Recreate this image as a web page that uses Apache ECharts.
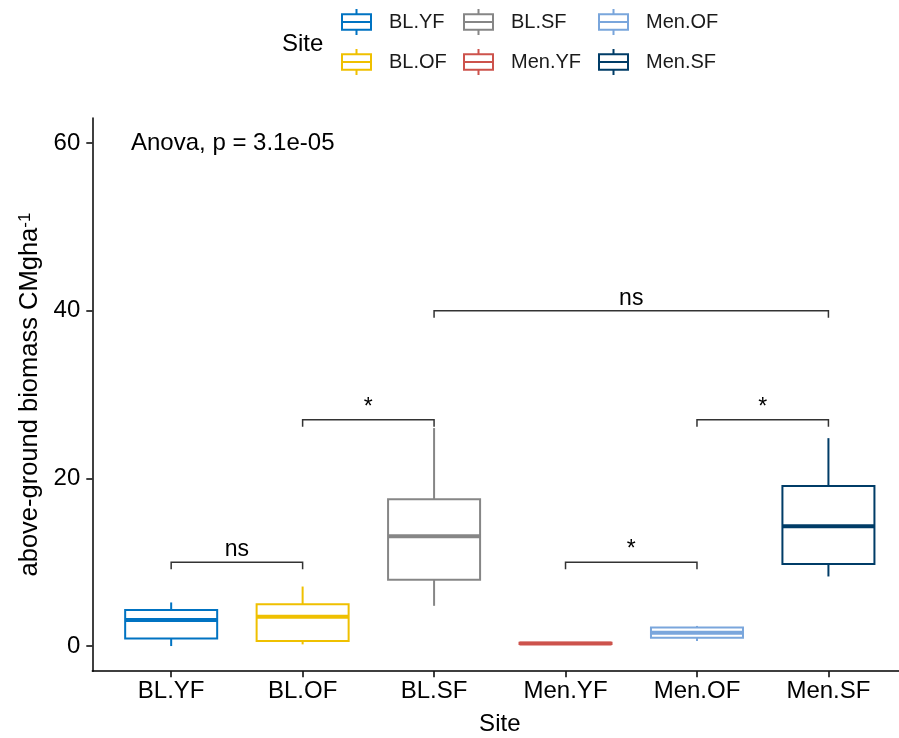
<!DOCTYPE html>
<html><head><meta charset="utf-8">
<script src="https://cdn.jsdelivr.net/npm/echarts@6/dist/echarts.min.js"></script>
<style>html,body{margin:0;padding:0;background:#fff}#c{width:899px;height:738px}</style>
</head><body><div id="c"></div>
<script>
// ---- data ----
const categories = ['BL.YF', 'BL.OF', 'BL.SF', 'Men.YF', 'Men.OF', 'Men.SF'];
const boxColors = ['#0073C2', '#EFC000', '#868686', '#CD534C', '#7AA6DC', '#003C67'];
const whiskerLow  = [0.0, 0.2, 4.8, 0.2, 0.6, 8.3];
const quartile1   = [0.9, 0.6, 7.9, 0.25, 1.0, 9.8];
const medians     = [3.1, 3.5, 13.1, 0.3, 1.6, 14.3];
const quartile3   = [4.3, 5.0, 17.5, 0.4, 2.2, 19.1];
const whiskerHigh = [5.2, 7.1, 26.0, 0.45, 2.4, 24.8];
const yTicks = [0, 20, 40, 60];
const compLeft   = ['BL.YF', 'BL.OF', 'BL.SF', 'Men.YF', 'Men.OF'];
const compRight  = ['BL.OF', 'BL.SF', 'Men.SF', 'Men.OF', 'Men.SF'];
const compY      = [10, 27, 40, 10, 27];
const compLabels = ['ns', '*', 'ns', '*', '*'];
const anovaLabel = 'Anova, p = 3.1e-05';
const legendColumns = [['BL.YF', 'BL.OF'], ['BL.SF', 'Men.YF'], ['Men.OF', 'Men.SF']];

// ---- chart ----
const FONT = '"Liberation Sans", Arial, sans-serif';
const chart = echarts.init(document.getElementById('c'), null, {renderer: 'canvas'});
const ICON = 'path://M14,0L14,6M2,6L26,6L26,24L2,24ZM2,15L26,15M14,24L14,30';

const boxSeries = categories.map((name, i) => ({
  name: name,
  type: 'custom',
  itemStyle: {color: boxColors[i]},
  encode: {x: 0, y: [1, 2, 3, 4, 5]},
  data: [[i + 1, whiskerLow[i], quartile1[i], medians[i], quartile3[i], whiskerHigh[i]]],
  renderItem: function (params, api) {
    const x = api.value(0);
    const col = boxColors[categories.indexOf(name)];
    const half = api.size([0.35, 0])[0];
    const lo = api.coord([x, api.value(1)]);
    const q1 = api.coord([x, api.value(2)]);
    const md = api.coord([x, api.value(3)]);
    const q3 = api.coord([x, api.value(4)]);
    const hi = api.coord([x, api.value(5)]);
    const cx = md[0];
    const lw = 2;
    return {type: 'group', children: [
      {type: 'line', shape: {x1: cx, y1: hi[1], x2: cx, y2: q3[1]}, style: {stroke: col, lineWidth: lw}},
      {type: 'line', shape: {x1: cx, y1: q1[1], x2: cx, y2: lo[1]}, style: {stroke: col, lineWidth: lw}},
      {type: 'rect', shape: {x: cx - half, y: q3[1], width: 2 * half, height: q1[1] - q3[1]},
        style: {fill: '#fff', stroke: col, lineWidth: lw}},
      {type: 'line', shape: {x1: cx - half, y1: md[1], x2: cx + half, y2: md[1]}, style: {stroke: col, lineWidth: 4}}
    ]};
  }
}));

const bracketSeries = {
  name: 'comparisons',
  type: 'custom',
  z: 5,
  encode: {x: [0, 1], y: 2},
  data: compY.map((y, k) => [categories.indexOf(compLeft[k]) + 1, categories.indexOf(compRight[k]) + 1, y]),
  renderItem: function (params, api) {
    const a = api.coord([api.value(0), api.value(2)]);
    const b = api.coord([api.value(1), api.value(2)]);
    const t = api.size([0, 0.85])[1];
    return {type: 'group', children: [
      {type: 'polyline', shape: {points: [[a[0], a[1] + t], [a[0], a[1]], [b[0], b[1]], [b[0], b[1] + t]]},
        style: {stroke: '#333', lineWidth: 1.5, fill: null}},
      {type: 'text', x: (a[0] + b[0]) / 2, y: a[1] - 1,
        style: {text: compLabels[params.dataIndex], fill: '#000', fontSize: 23, fontFamily: FONT,
          align: 'center', verticalAlign: 'bottom'}}
    ]};
  }
};

const legendLefts = [341, 463, 598];
const legends = legendColumns.map((names, c) => ({
  orient: 'vertical',
  left: legendLefts[c],
  top: 8,
  padding: 0,
  itemWidth: 29,
  itemHeight: 26,
  itemGap: 12,
  symbolKeepAspect: false,
  selectedMode: false,
  textStyle: {fontSize: 20, color: '#1a1a1a', fontFamily: FONT, padding: [0, 0, 0, 13]},
  data: names.map(n => ({
    name: n, icon: ICON,
    itemStyle: {color: '#fff', borderColor: boxColors[categories.indexOf(n)], borderWidth: 2}
  }))
}));

const option = {
  animation: false,
  backgroundColor: '#fff',
  textStyle: {fontFamily: FONT},
  title: {text: 'Site', left: 282, top: 32, padding: 0,
    textStyle: {fontSize: 24, fontWeight: 'normal', color: '#000', fontFamily: FONT}},
  legend: legends,
  grid: {left: 92.3, top: 117.9, width: 815, height: 553.3, outerBoundsMode: 'none'},
  xAxis: {
    type: 'value', min: 0.4, max: 6.6,
    name: 'Site', nameLocation: 'middle', nameGap: 41,
    nameTextStyle: {fontSize: 24, color: '#000', fontFamily: FONT},
    axisLine: {onZero: false, lineStyle: {color: '#000', width: 1.5}},
    axisTick: {show: true, length: 6, lineStyle: {color: '#000', width: 1.5}, customValues: [1, 2, 3, 4, 5, 6]},
    axisLabel: {customValues: [1, 2, 3, 4, 5, 6], margin: 8, fontSize: 24, color: '#000', fontFamily: FONT,
      formatter: v => categories[Math.round(v) - 1] || ''},
    splitLine: {show: false}
  },
  yAxis: {
    type: 'value', min: -3, max: 63,
    name: 'above-ground biomass CMgha{sup|-1}', nameLocation: 'middle', nameGap: 46,
    nameTextStyle: {fontSize: 25.5, color: '#000', fontFamily: FONT,
      rich: {sup: {fontSize: 17, verticalAlign: 'top', color: '#000', fontFamily: FONT}}},
    axisLine: {show: true, onZero: false, lineStyle: {color: '#000', width: 1.5}},
    axisTick: {show: true, length: 6, lineStyle: {color: '#000', width: 1.5}, customValues: yTicks},
    axisLabel: {customValues: yTicks, margin: 12, fontSize: 24, color: '#000', fontFamily: FONT},
    splitLine: {show: false}
  },
  graphic: [{type: 'text', x: 131, y: 143,
    style: {text: anovaLabel, fontSize: 24, fontFamily: FONT, fill: '#000', align: 'left', verticalAlign: 'middle'}}],
  series: boxSeries.concat([bracketSeries])
};
chart.setOption(option);
</script>
</body></html>
